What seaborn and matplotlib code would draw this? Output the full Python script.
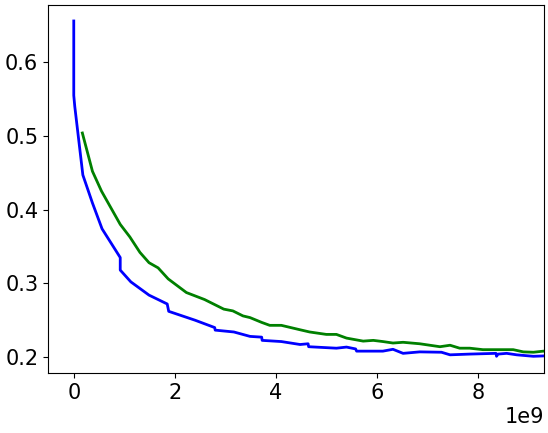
import seaborn as sns
import numpy as np
import matplotlib as mpl
mpl.use("Agg")
import matplotlib.pyplot as plt

# blue curve (x in units of 1e9)
blue_x = [0.0, 0.0, 0.02, 0.18, 0.37, 0.56, 0.92, 0.92, 1.13, 1.49, 1.85, 1.88, 2.40,
          2.79, 2.80, 3.17, 3.49, 3.72, 3.73, 4.11, 4.48, 4.64, 4.65, 5.20, 5.40,
          5.58, 5.60, 6.12, 6.32, 6.52, 6.85, 7.28, 7.45, 7.84, 8.36, 8.37, 8.40,
          8.57, 8.77, 9.10, 9.30, 9.40]
blue_y = [0.656, 0.555, 0.540, 0.447, 0.409, 0.374, 0.335, 0.318, 0.302, 0.284, 0.272,
          0.262, 0.250, 0.240, 0.2365, 0.234, 0.228, 0.227, 0.2226, 0.221, 0.217,
          0.218, 0.214, 0.212, 0.2135, 0.211, 0.208, 0.208, 0.2105, 0.205, 0.207,
          0.2065, 0.203, 0.204, 0.205, 0.201, 0.204, 0.205, 0.203, 0.201, 0.2015, 0.2015]

# green curve
green_x = [0.17, 0.37, 0.55, 0.92, 1.11, 1.31, 1.49, 1.67, 1.87, 2.23, 2.59, 2.97,
           3.15, 3.35, 3.49, 3.72, 3.88, 4.11, 4.48, 4.67, 5.00, 5.20, 5.40, 5.73,
           5.93, 6.12, 6.32, 6.52, 6.85, 7.25, 7.45, 7.64, 7.84, 8.10, 8.70, 8.90,
           9.10, 9.30, 9.40]
green_y = [0.504, 0.452, 0.425, 0.380, 0.363, 0.342, 0.328, 0.321, 0.306, 0.2875,
           0.278, 0.265, 0.2626, 0.2558, 0.2535, 0.247, 0.243, 0.243, 0.237, 0.234,
           0.2307, 0.2307, 0.2257, 0.2216, 0.2226, 0.221, 0.219, 0.220, 0.218, 0.214,
           0.216, 0.212, 0.212, 0.210, 0.210, 0.207, 0.2065, 0.208, 0.208]

plt.rcParams["font.size"] = 13
fig, ax = plt.subplots(figsize=(5.48, 4.33), dpi=100)
fig.subplots_adjust(left=0.0876, right=0.9927, bottom=0.138, top=0.989)

sns.lineplot(x=np.array(blue_x) * 1e9, y=blue_y, sort=False, estimator=None,
             color="blue", lw=2, ax=ax)
sns.lineplot(x=np.array(green_x) * 1e9, y=green_y, sort=False, estimator=None,
             color="green", lw=2, ax=ax)

ax.set_xlim(-0.51e9, 9.31e9)
ax.set_ylim(0.178, 0.678)
ax.set_yticks([0.2, 0.3, 0.4, 0.5, 0.6])
ax.tick_params(labelsize=15)
ax.xaxis.get_offset_text().set_fontsize(15)

fig.savefig("out.png", dpi=100)
